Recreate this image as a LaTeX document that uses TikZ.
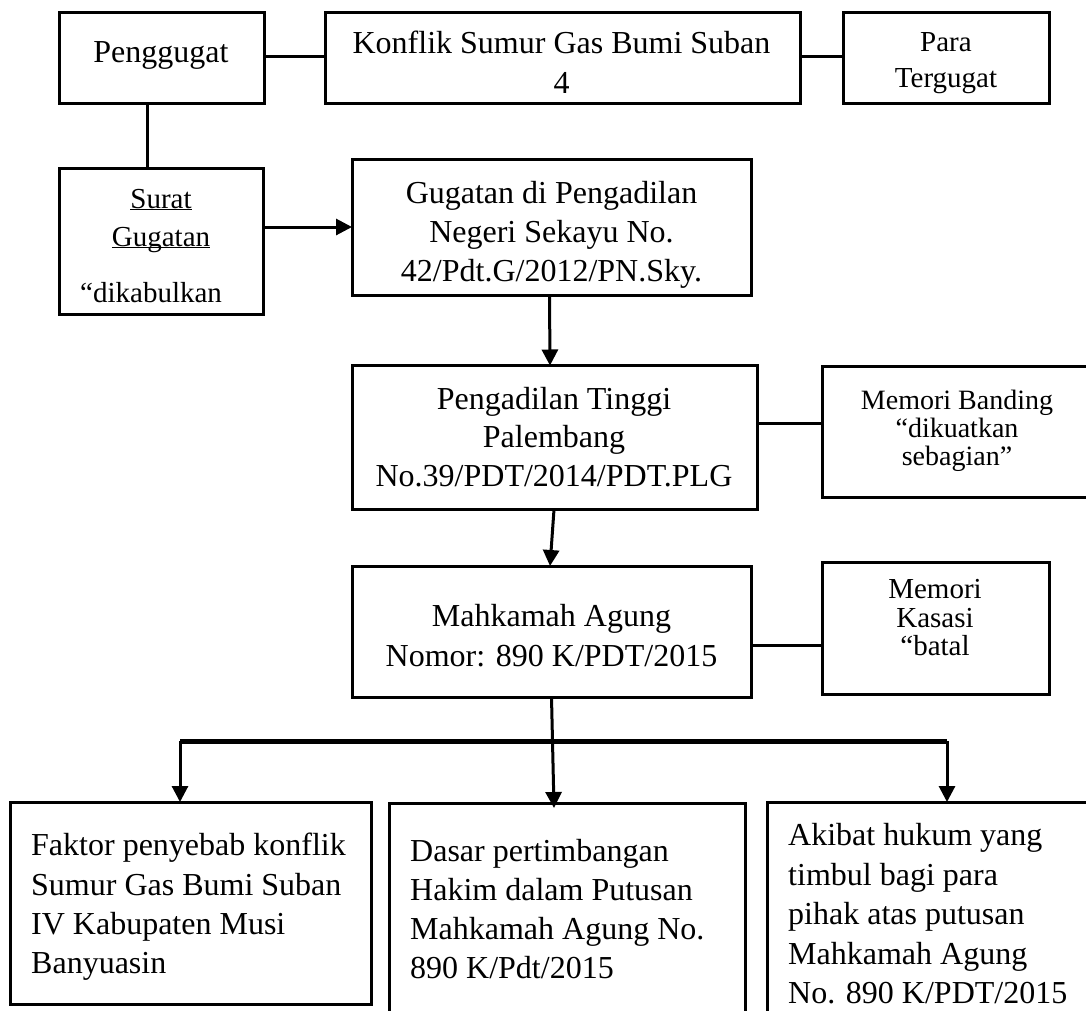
\documentclass[tikz,border=0pt]{standalone}
\usepackage{fontspec}
\setmainfont{Liberation Serif}
\usetikzlibrary{arrows.meta}
\begin{document}
\begin{tikzpicture}[x=1pt,y=-1pt,
  box/.style={draw, line width=3pt, inner sep=0pt, outer sep=0pt},
  bigtxt/.style={inner sep=0pt, align=center},
  lefttxt/.style={inner sep=0pt, align=left, anchor=west},
  conn/.style={line width=3pt},
  arr/.style={line width=3pt, -{Triangle[length=16pt,width=16pt]}},
  bus/.style={line width=5pt}]
\useasboundingbox (0,0) rectangle (1086,1010);
\clip (0,0) rectangle (1086,1010);
\fill[white] (0,0) rectangle (1086,1010);

% boxes
\node[box, minimum width=205pt, minimum height=91pt] (pg) at (161.5,57.5) {};
\node[box, minimum width=475pt, minimum height=91pt] (kf) at (562.5,57.5) {};
\node[box, minimum width=206pt, minimum height=91pt] (pt) at (946,57.5) {};
\node[box, minimum width=204pt, minimum height=146pt] (sg) at (161,241) {};
\node[box, minimum width=399pt, minimum height=136pt] (gg) at (551.5,227) {};
\node[box, minimum width=405pt, minimum height=144pt] (tg) at (554.5,437.5) {};
\node[box, minimum width=270pt, minimum height=131pt] (mb) at (957,431.5) {};
\node[box, minimum width=399pt, minimum height=131pt] (ma) at (551.5,631.5) {};
\node[box, minimum width=227pt, minimum height=132pt] (mk) at (935.5,628) {};
\node[box, minimum width=361pt, minimum height=202pt] (b1) at (190.5,903) {};
\node[box, minimum width=356pt, minimum height=227pt] (b2) at (567,916.5) {};
\node[box, minimum width=333pt, minimum height=228pt] (b3) at (933.5,916) {};

% texts
\node[bigtxt, font=\fontsize{32}{40}\selectfont] (t-pg) at (161,55) {Penggugat};
\node[bigtxt, font=\fontsize{32}{40}\selectfont] (t-kf) at (561.5,62) {Konflik Sumur Gas Bumi Suban\\4};
\node[bigtxt, font=\fontsize{29}{36}\selectfont] (t-pt) at (946,63) {Para\\Tergugat};
\node[inner sep=0pt, anchor=base, font=\fontsize{29}{36}\selectfont] (t-sg1) at (161,208) {\underline{\smash{Surat}}};
\node[inner sep=0pt, anchor=base, font=\fontsize{29}{36}\selectfont] (t-sg2) at (161,246) {\underline{\smash{Gugatan}}};
\node[inner sep=0pt, anchor=base west, font=\fontsize{29}{36}\selectfont] (t-sg3) at (80,302) {“dikabulkan};
\node[bigtxt, font=\fontsize{32}{39}\selectfont] (t-gg) at (551.5,235) {Gugatan di Pengadilan\\Negeri Sekayu No.\\42/Pdt.G/2012/PN.Sky.};
\node[bigtxt, font=\fontsize{32}{38.5}\selectfont] (t-tg) at (554,437) {Pengadilan Tinggi\\Palembang\\No.39/PDT/2014/PDT.PLG};
\node[bigtxt, font=\fontsize{28}{28}\selectfont] (t-mb) at (957,431) {Memori Banding\\“dikuatkan\\sebagian”};
\node[bigtxt, font=\fontsize{32}{40}\selectfont] (t-ma) at (551.5,636) {Mahkamah Agung\\Nomor: 890 K/PDT/2015};
\node[bigtxt, font=\fontsize{29}{28.5}\selectfont] (t-mk) at (935,618) {Memori\\Kasasi\\“batal};
\node[lefttxt, font=\fontsize{32}{39.3}\selectfont] (t-b1) at (31,907) {Faktor penyebab konflik\\Sumur Gas Bumi Suban\\IV Kabupaten Musi\\Banyuasin};
\node[lefttxt, font=\fontsize{32}{39.3}\selectfont] (t-b2) at (410,909) {Dasar pertimbangan\\Hakim dalam Putusan\\Mahkamah Agung No.\\890 K/Pdt/2015};
\node[lefttxt, font=\fontsize{32}{39.5}\selectfont] (t-b3) at (788,914) {Akibat hukum yang\\timbul bagi para\\pihak atas putusan\\Mahkamah Agung\\No. 890 K/PDT/2015};

% connectors
\draw[conn] ([yshift=1.5pt]pg.east) -- ([yshift=1.5pt]kf.west);
\draw[conn] ([yshift=1.5pt]kf.east) -- ([yshift=1.5pt]pt.west);
\draw[conn] ([xshift=-14.5pt]pg.south) -- ([xshift=-14pt]sg.north);
\draw[arr] (sg.east |- gg.west) -- (gg.west);
\draw[arr] ([xshift=-2pt]gg.south) -- ([xshift=-4.5pt]tg.north);
\draw[conn] ([yshift=14pt]tg.east) -- ([yshift=14pt]tg.east -| mb.west);
\draw[arr] ([xshift=-0.5pt]tg.south) -- ([xshift=-1.5pt]ma.north);
\draw[conn] ([yshift=-13.5pt]ma.east) -- ([yshift=-13.5pt]ma.east -| mk.west);

\coordinate (busL) at (180,741);
\coordinate (busR) at (947,741);
\draw[bus] (busL) -- (busR);
\draw[arr] ([xshift=-10.5pt]b1.north |- busL) -- ([xshift=-10.5pt]b1.north);
\draw[arr] ([xshift=13.5pt]b3.north |- busR) -- ([xshift=13.5pt]b3.north);
\draw[arr] (ma.south) -- ([xshift=-13pt, yshift=-5pt]b2.north);
\end{tikzpicture}
\end{document}
